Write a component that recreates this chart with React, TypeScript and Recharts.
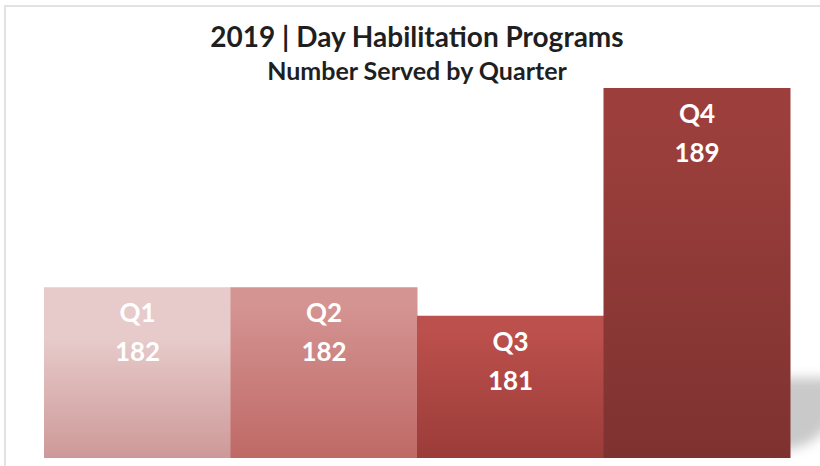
import { BarChart, Bar, XAxis, YAxis, Cell, LabelList } from "recharts";

const quarters = ["Q1", "Q2", "Q3", "Q4"];
const served = [182, 182, 181, 189];
const topColors = ["#e7caca", "#d49492", "#bc504c", "#9c3f3c"];
const bottomColors = ["#cd9998", "#bf6966", "#9b3c39", "#7e3230"];

const chartData = quarters.map((q, i) => ({ quarter: q, served: served[i] }));

const FONT = "Lato, 'Open Sans', sans-serif";

function BarLabel(props: any) {
  const { x, y, width, index } = props;
  const cx = Number(x) + Number(width) / 2;
  return (
    <g>
      <text x={cx} y={Number(y) + 35} textAnchor="middle" fill="#ffffff" fontFamily={FONT} fontWeight={700} fontSize={26}>
        {quarters[index]}
      </text>
      <text x={cx} y={Number(y) + 74} textAnchor="middle" fill="#ffffff" fontFamily={FONT} fontWeight={700} fontSize={26}>
        {served[index]}
      </text>
    </g>
  );
}

export default function App() {
  return (
    <div style={{ position: "absolute", left: 0, top: 0, width: 820, height: 466, background: "#fff", overflow: "hidden" }}>
      {/* frame lines */}
      <div style={{ position: "absolute", left: 4, top: 5, width: 816, height: 2, background: "#e2e2e2" }} />
      <div style={{ position: "absolute", left: 4, top: 5, width: 2, height: 461, background: "#e2e2e2" }} />
      {/* soft shadow to the right of Q4 */}
      <div
        style={{
          position: "absolute",
          left: 770,
          top: 378,
          width: 70,
          height: 72,
          background: "#c9c9c9",
          filter: "blur(6px)",
          borderBottomRightRadius: 60,
        }}
      />
      <div
        style={{
          position: "absolute",
          left: 0,
          top: 18,
          width: 834,
          textAlign: "center",
          fontFamily: FONT,
          fontWeight: 700,
          fontSize: 28,
          color: "#1f1f1f",
          lineHeight: "36px",
        }}
      >
        2019 | Day Habilitation Programs
      </div>
      <div
        style={{
          position: "absolute",
          left: 0,
          top: 55,
          width: 834,
          textAlign: "center",
          fontFamily: FONT,
          fontWeight: 700,
          fontSize: 25,
          color: "#1f1f1f",
          lineHeight: "30px",
        }}
      >
        Number Served by Quarter
      </div>
      <div style={{ position: "absolute", left: 0, top: 0 }}>
        <BarChart width={820} height={466} data={chartData} margin={{ top: 88, right: 30, bottom: 8, left: 44 }} barCategoryGap={0} barGap={0}>
          <defs>
            {quarters.map((q, i) => (
              <linearGradient key={q} id={`grad${i}`} x1="0" y1="0" x2="0" y2="1">
                <stop offset="0%" stopColor={topColors[i]} />
                <stop offset={i === 0 ? "30%" : "10%"} stopColor={topColors[i]} />
                <stop offset="100%" stopColor={bottomColors[i]} />
              </linearGradient>
            ))}
          </defs>
          <XAxis dataKey="quarter" hide />
          <YAxis hide domain={[176, 189]} allowDataOverflow />
          <Bar dataKey="served" isAnimationActive={false}>
            {chartData.map((d, i) => (
              <Cell key={d.quarter} fill={`url(#grad${i})`} />
            ))}
            <LabelList dataKey="served" content={BarLabel} />
          </Bar>
        </BarChart>
      </div>
    </div>
  );
}
